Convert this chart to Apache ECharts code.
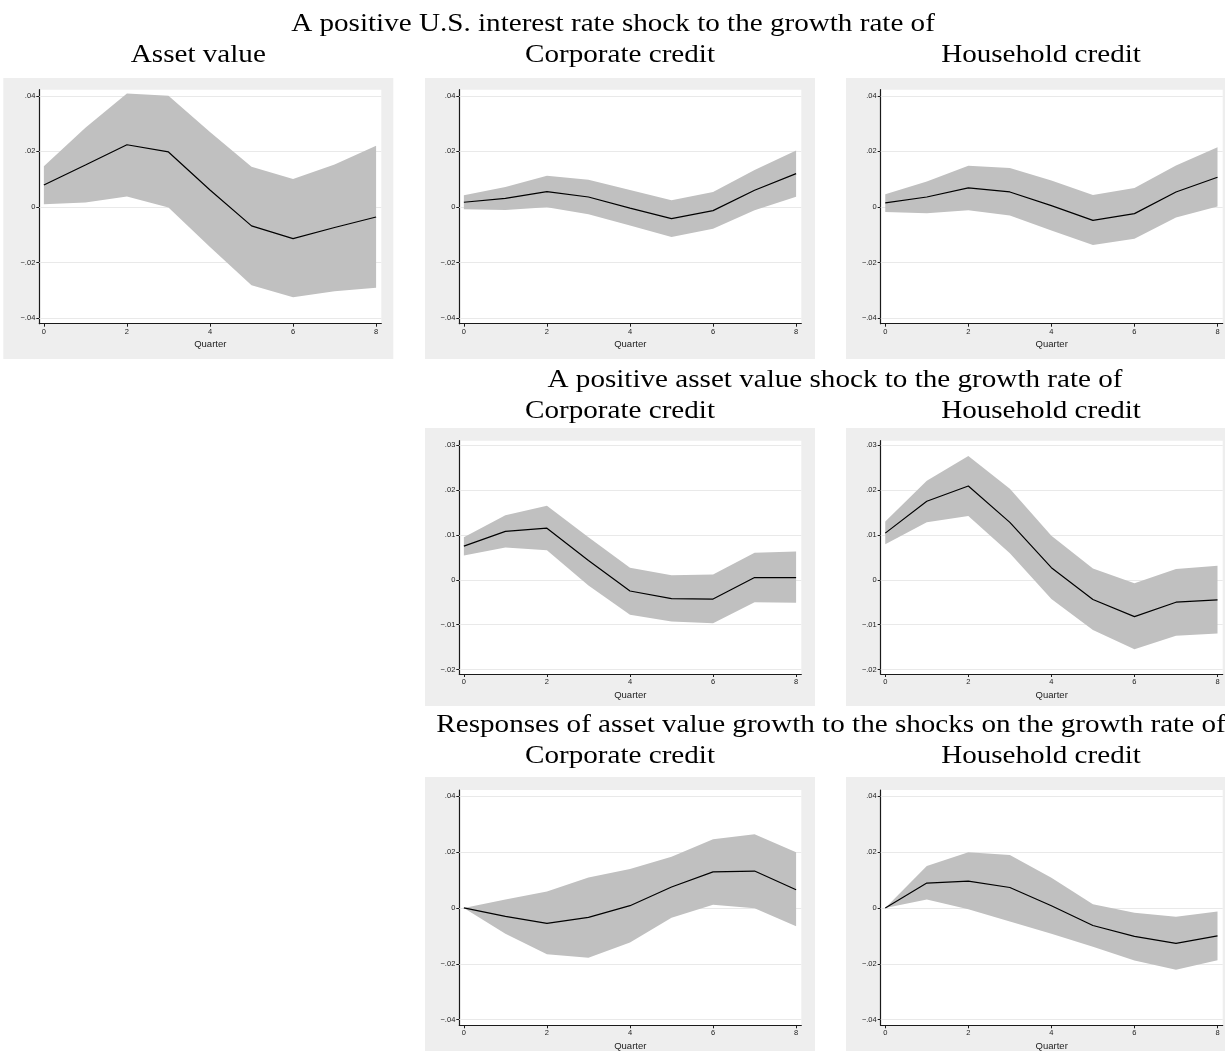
<!DOCTYPE html>
<html>
<head>
<meta charset="utf-8">
<script src="https://cdn.jsdelivr.net/npm/echarts@6/dist/echarts.min.js"></script>
<style>
  html, body { margin: 0; padding: 0; background: #ffffff; }
  #chart { width: 1225px; height: 1053px; }
</style>
</head>
<body>
<div id="chart"></div>
<script>
// Impulse responses over 8 quarters: point estimate with lower / upper bands
const quarters = [0, 1, 2, 3, 4, 5, 6, 7, 8];
const xTickValues = [0, 2, 4, 6, 8];
const yTicksWide = [-0.04, -0.02, 0, 0.02, 0.04];
const yTicksNarrow = [-0.02, -0.01, 0, 0.01, 0.02, 0.03];

const headings = [
  'A positive U.S. interest rate shock to the growth rate of',
  'A positive asset value shock to the growth rate of',
  'Responses of asset value growth to the shocks on the growth rate of'
];
const panelTitles = ['Asset value', 'Corporate credit', 'Household credit'];

// U.S. interest rate shock -> asset value
const rateAssetIrf = [0.0079, 0.0151, 0.0224, 0.0198, 0.0061, -0.0068, -0.0114, -0.0074, -0.0036];
const rateAssetHi  = [0.0147, 0.0285, 0.0408, 0.0400, 0.0270, 0.0145, 0.0101, 0.0153, 0.0220];
const rateAssetLo  = [0.0010, 0.0016, 0.0038, -0.0002, -0.0144, -0.0282, -0.0325, -0.0303, -0.0291];

// U.S. interest rate shock -> corporate credit
const rateCorpIrf = [0.0017, 0.0031, 0.0055, 0.0036, -0.0004, -0.0042, -0.0013, 0.0060, 0.0120];
const rateCorpHi  = [0.0042, 0.0072, 0.0112, 0.0098, 0.0061, 0.0024, 0.0054, 0.0133, 0.0203];
const rateCorpLo  = [-0.0008, -0.0011, -0.0001, -0.0026, -0.0067, -0.0108, -0.0078, -0.0012, 0.0037];

// U.S. interest rate shock -> household credit
const rateHouseIrf = [0.0015, 0.0036, 0.0069, 0.0054, 0.0005, -0.0048, -0.0024, 0.0054, 0.0107];
const rateHouseHi  = [0.0046, 0.0092, 0.0148, 0.0140, 0.0095, 0.0043, 0.0068, 0.0149, 0.0215];
const rateHouseLo  = [-0.0018, -0.0023, -0.0012, -0.0031, -0.0085, -0.0137, -0.0114, -0.0038, 0.0002];

// Asset value shock -> corporate credit
const assetCorpIrf = [0.0075, 0.0108, 0.0115, 0.0043, -0.0025, -0.0042, -0.0043, 0.0005, 0.0005];
const assetCorpHi  = [0.0095, 0.0144, 0.0165, 0.0095, 0.0027, 0.0010, 0.0012, 0.0060, 0.0063];
const assetCorpLo  = [0.0054, 0.0072, 0.0066, -0.0013, -0.0078, -0.0093, -0.0097, -0.0050, -0.0051];

// Asset value shock -> household credit
const assetHouseIrf = [0.0104, 0.0175, 0.0209, 0.0128, 0.0027, -0.0044, -0.0082, -0.0050, -0.0045];
const assetHouseHi  = [0.0130, 0.0221, 0.0276, 0.0203, 0.0098, 0.0025, -0.0008, 0.0024, 0.0031];
const assetHouseLo  = [0.0079, 0.0128, 0.0142, 0.0059, -0.0043, -0.0112, -0.0155, -0.0125, -0.0120];

// Corporate credit shock -> asset value growth
const corpAssetIrf = [0, -0.0030, -0.0055, -0.0034, 0.0008, 0.0075, 0.0129, 0.0132, 0.0065];
const corpAssetHi  = [0, 0.0030, 0.0059, 0.0109, 0.0139, 0.0183, 0.0246, 0.0264, 0.0199];
const corpAssetLo  = [0, -0.0092, -0.0166, -0.0178, -0.0124, -0.0035, 0.0011, -0.0001, -0.0066];

// Household credit shock -> asset value growth
const houseAssetIrf = [0, 0.0089, 0.0096, 0.0073, 0.0008, -0.0063, -0.0102, -0.0127, -0.0100];
const houseAssetHi  = [0, 0.0150, 0.0199, 0.0189, 0.0108, 0.0013, -0.0017, -0.0032, -0.0013];
const houseAssetLo  = [0, 0.0030, -0.0005, -0.0049, -0.0092, -0.0139, -0.0188, -0.0221, -0.0187];

const panels = [
  { row: 0, col: 0, title: panelTitles[0], irf: rateAssetIrf,  lo: rateAssetLo,  hi: rateAssetHi,  ticks: yTicksWide },
  { row: 0, col: 1, title: panelTitles[1], irf: rateCorpIrf,   lo: rateCorpLo,   hi: rateCorpHi,   ticks: yTicksWide },
  { row: 0, col: 2, title: panelTitles[2], irf: rateHouseIrf,  lo: rateHouseLo,  hi: rateHouseHi,  ticks: yTicksWide },
  { row: 1, col: 1, title: panelTitles[1], irf: assetCorpIrf,  lo: assetCorpLo,  hi: assetCorpHi,  ticks: yTicksNarrow },
  { row: 1, col: 2, title: panelTitles[2], irf: assetHouseIrf, lo: assetHouseLo, hi: assetHouseHi, ticks: yTicksNarrow },
  { row: 2, col: 1, title: panelTitles[1], irf: corpAssetIrf,  lo: corpAssetLo,  hi: corpAssetHi,  ticks: yTicksWide },
  { row: 2, col: 2, title: panelTitles[2], irf: houseAssetIrf, lo: houseAssetLo, hi: houseAssetHi, ticks: yTicksWide }
];

// ---- layout (pixels) ----
const colBoxLeft = [3.3, 425, 846];
const boxWidth = 390;
const colPlotLeft = [39.3, 459.3, 880.7];
const plotWidth = 342;
const rowBox = [[78, 359], [428, 706], [777, 1051]];
const rowPlot = [[89.7, 234], [440.7, 233.3], [790, 235.3]];
const headingY = [24, 380, 725];
const subtitleY = [55, 411, 756];
const headingX = [613, 835, 831];

const serifFont = '"Liberation Serif", "DejaVu Serif", serif';
const sansFont = '"Liberation Sans", Arial, sans-serif';
const titleSize = 26;
const titleStretch = 1.12;   // widen the serif face towards a Computer Modern set width
const boxGray = '#eeeeee';
const bandGray = '#c0c0c0';
const gridGray = '#e9e9e9';

function tickText(v) {
  if (Math.abs(v) < 1e-12) return '0';
  const s = Math.abs(v).toFixed(2).replace(/^0/, '');
  return (v < 0 ? '\u2212' : '') + s;
}

function titleText(text, x, y) {
  return {
    type: 'text', x: x, y: y, scaleX: titleStretch, silent: true,
    style: { text: text, font: titleSize + 'px ' + serifFont, fill: '#000',
             align: 'center', verticalAlign: 'middle', textAlign: 'center', textVerticalAlign: 'middle' }
  };
}

const grids = [], xAxes = [], yAxes = [], series = [], graphics = [];

// page headings
headings.forEach((h, r) => graphics.push(titleText(h, headingX[r], headingY[r])));

panels.forEach((p, i) => {
  const bx = colBoxLeft[p.col];
  const [by0, by1] = rowBox[p.row];
  const [pt, ph] = rowPlot[p.row];
  const wide = p.ticks === yTicksWide;
  const yMin = wide ? -0.042 : -0.021;
  const yMax = wide ? 0.0422 : 0.031;

  graphics.push({
    type: 'rect', z: -10, silent: true,
    shape: { x: bx, y: by0, width: boxWidth, height: by1 - by0 },
    style: { fill: boxGray }
  });
  graphics.push(titleText(p.title, bx + boxWidth / 2, subtitleY[p.row]));

  grids.push({
    left: colPlotLeft[p.col], top: pt, width: plotWidth, height: ph,
    show: true, backgroundColor: '#ffffff', borderWidth: 0, containLabel: false
  });

  xAxes.push({
    type: 'value', gridIndex: i, min: -0.11, max: 8.125,
    name: 'Quarter', nameLocation: 'middle', nameGap: 16,
    nameTextStyle: { fontFamily: sansFont, fontSize: 9.5, color: '#222' },
    axisLine: { show: true, onZero: false, lineStyle: { color: '#1a1a1a', width: 1.2 } },
    axisTick: { show: true, length: 3, customValues: xTickValues, lineStyle: { color: '#1a1a1a', width: 1 } },
    axisLabel: { show: true, customValues: xTickValues, margin: 4, fontFamily: sansFont, fontSize: 7.5, color: '#222',
                 formatter: v => String(v) },
    splitLine: { show: false }
  });

  yAxes.push({
    type: 'value', gridIndex: i, min: yMin, max: yMax,
    axisLine: { show: true, onZero: false, lineStyle: { color: '#1a1a1a', width: 1.2 } },
    axisTick: { show: true, length: 3, customValues: p.ticks, lineStyle: { color: '#1a1a1a', width: 1 } },
    axisLabel: { show: true, customValues: p.ticks, margin: 4, fontFamily: sansFont, fontSize: 7.5, color: '#222',
                 formatter: tickText },
    splitLine: { show: false }
  });

  // shaded confidence band, drawn as a single polygon through the axis scales
  series.push({
    type: 'custom', xAxisIndex: i, yAxisIndex: i, z: 2, silent: true,
    data: quarters.map((q, k) => [q, p.lo[k], p.hi[k]]),
    encode: { x: 0, y: [1, 2] },
    renderItem: function (params, api) {
      if (params.dataIndex !== 0) return null;
      const pts = [];
      quarters.forEach((q, k) => pts.push(api.coord([q, p.hi[k]])));
      for (let k = quarters.length - 1; k >= 0; k--) pts.push(api.coord([quarters[k], p.lo[k]]));
      return { type: 'polygon', shape: { points: pts }, style: { fill: bandGray, stroke: null } };
    }
  });

  // point estimate, with horizontal grid lines at the y ticks underneath the band
  series.push({
    type: 'line', xAxisIndex: i, yAxisIndex: i, z: 3, silent: true,
    data: quarters.map((q, k) => [q, p.irf[k]]),
    symbol: 'none',
    lineStyle: { color: '#000000', width: 1.2 },
    markLine: {
      silent: true, z: 1, symbol: ['none', 'none'], animation: false,
      label: { show: false },
      lineStyle: { color: gridGray, width: 1.2, type: 'solid' },
      emphasis: { disabled: true },
      data: p.ticks.map(v => ({ yAxis: v }))
    }
  });
});

const chart = echarts.init(document.getElementById('chart'), null, { renderer: 'canvas' });
chart.setOption({
  animation: false,
  backgroundColor: '#ffffff',
  grid: grids,
  xAxis: xAxes,
  yAxis: yAxes,
  series: series,
  graphic: graphics
});
</script>
</body>
</html>
